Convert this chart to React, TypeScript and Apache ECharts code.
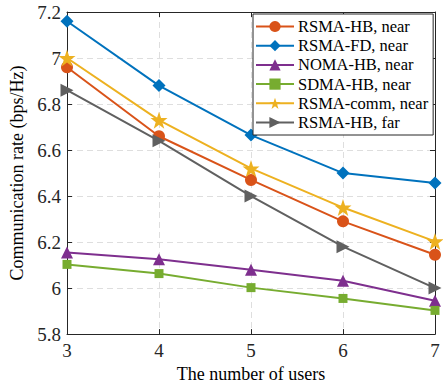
import React, { useEffect, useRef } from "react";
import * as echarts from "echarts";

const users = [3, 4, 5, 6, 7];
const rsmaHbNear = [6.96, 6.66, 6.47, 6.29, 6.145];
const rsmaFdNear = [7.16, 6.88, 6.665, 6.5, 6.457];
const nomaHbNear = [6.155, 6.125, 6.08, 6.032, 5.945];
const sdmaHbNear = [6.103, 6.063, 6.002, 5.955, 5.903];
const rsmaCommNear = [7.0, 6.73, 6.52, 6.35, 6.203];
const rsmaHbFar = [6.86, 6.64, 6.4, 6.18, 6.0];

const seriesNames = [
  "RSMA-HB, near",
  "RSMA-FD, near",
  "NOMA-HB, near",
  "SDMA-HB, near",
  "RSMA-comm, near",
  "RSMA-HB, far",
];

const STAR =
  "path://M50,0 L61.8,35.1 L98.9,35.1 L69,57.3 L80.3,92.7 L50,71 L19.7,92.7 L31,57.3 L1.1,35.1 L38.2,35.1 Z";

export default function App() {
  const ref = useRef<HTMLDivElement>(null);
  useEffect(() => {
    const chart = echarts.init(ref.current!, null, { renderer: "svg" });
    const font = "Liberation Serif";
    const legendText = {
      fontFamily: font,
      fontSize: 16.5,
      color: "#000",
      lineHeight: 14,
    };
    const mk = (
      name: string,
      data: number[],
      color: string,
      symbol: string,
      size: number,
      rotate = 0
    ) => ({
      name,
      type: "line",
      data: data.map((v, i) => [users[i], v]),
      symbol,
      symbolSize: size,
      symbolRotate: rotate,
      showSymbol: true,
      lineStyle: { color, width: 2 },
      itemStyle: { color, borderWidth: 0 },
      z: 3,
    });
    const axisLine = { show: true, lineStyle: { color: "#262626", width: 1 } };
    const tick = { show: true, inside: true, length: 5, lineStyle: { color: "#262626" } };
    const split = { show: true, lineStyle: { color: "#dedede", type: [6, 4], width: 1 } };
    chart.setOption({
      animation: false,
      backgroundColor: "#fff",
      textStyle: { fontFamily: font },
      grid: { left: 57, right: 8, top: 12, bottom: 53, containLabel: false },
      legend: {
        orient: "vertical",
        left: 253,
        top: 14,
        data: seriesNames,
        itemWidth: 38,
        itemHeight: 14,
        itemGap: 2.2,
        padding: [4, 5, 4, 2],
        borderColor: "#262626",
        borderWidth: 1,
        backgroundColor: "#fff",
        textStyle: { ...legendText, padding: [0, 0, 0, -1] },
      },
      xAxis: [
        {
          type: "value",
          min: 3,
          max: 7,
          interval: 1,
          name: "The number of users",
          nameLocation: "middle",
          nameGap: 27,
          nameTextStyle: { fontFamily: font, fontSize: 18, color: "#000" },
          axisLine,
          axisTick: tick,
          axisLabel: { fontFamily: font, fontSize: 19, color: "#262626", margin: 7 },
          splitLine: split,
        },
        {
          type: "value",
          position: "top",
          min: 3,
          max: 7,
          interval: 1,
          axisLine,
          axisTick: tick,
          axisLabel: { show: false },
          splitLine: { show: false },
        },
      ],
      yAxis: [
        {
          type: "value",
          min: 5.8,
          max: 7.2,
          interval: 0.2,
          name: "Communication rate (bps/Hz)",
          nameLocation: "middle",
          nameGap: 41,
          nameTextStyle: { fontFamily: font, fontSize: 18, color: "#000" },
          axisLine,
          axisTick: tick,
          axisLabel: {
            fontFamily: font,
            fontSize: 19,
            color: "#262626",
            margin: 6,
            formatter: (v: number) => String(Math.round(v * 10) / 10),
          },
          splitLine: split,
        },
        {
          type: "value",
          position: "right",
          min: 5.8,
          max: 7.2,
          interval: 0.2,
          axisLine,
          axisTick: tick,
          axisLabel: { show: false },
          splitLine: { show: false },
        },
      ],
      series: [
        mk(seriesNames[0], rsmaHbNear, "#D95319", "circle", 12),
        mk(seriesNames[1], rsmaFdNear, "#0072BD", "diamond", 13),
        mk(seriesNames[2], nomaHbNear, "#7E2F8E", "triangle", 12),
        mk(seriesNames[3], sdmaHbNear, "#77AC30", "rect", 9),
        mk(seriesNames[4], rsmaCommNear, "#EDB120", STAR, 17),
        mk(seriesNames[5], rsmaHbFar, "#606060", "triangle", 13, -90),
      ],
    });
    return () => chart.dispose();
  }, []);
  return (
    <div
      ref={ref}
      style={{ position: "absolute", left: 0, top: 0, width: 443, height: 388 }}
    />
  );
}
